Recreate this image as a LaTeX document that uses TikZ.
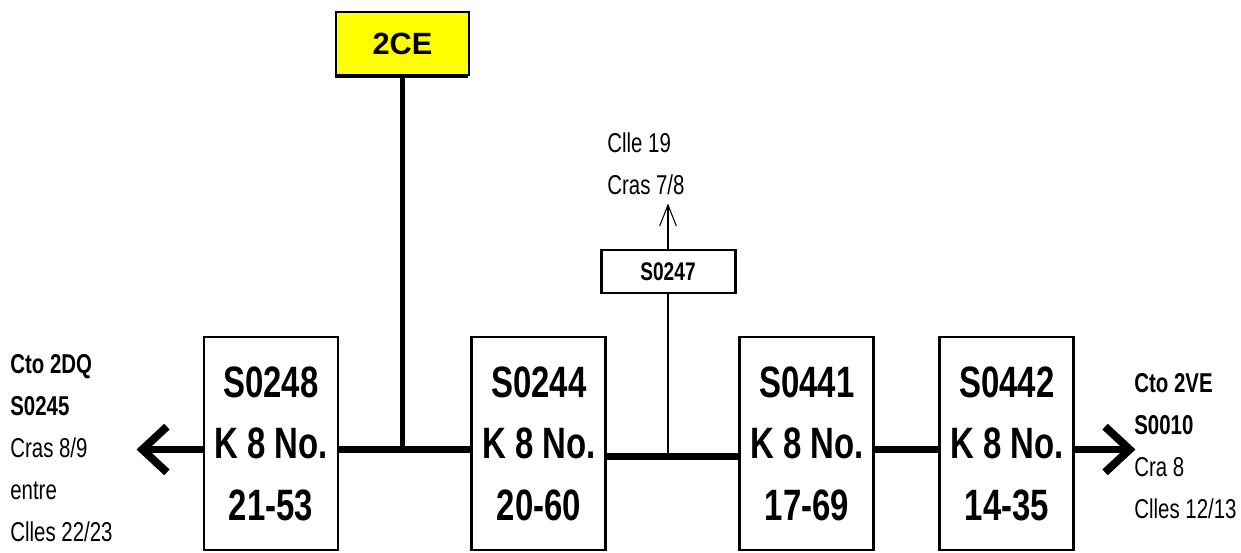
\documentclass[tikz,border=0pt]{standalone}
\usepackage{fontspec}
\setmainfont{Liberation Sans}[FakeStretch=0.75]
\newfontfamily\tagfont{Liberation Sans}
\usepackage{tikz}
\usetikzlibrary{arrows.meta, positioning, shadows}
\definecolor{tagyellow}{HTML}{FFFF00}

\begin{document}
\begin{tikzpicture}[
    node distance=2.62cm,
    mbox/.style={rectangle, draw=black, fill=white, line width=1.7pt,
        minimum width=2.68cm, minimum height=4.26cm, align=center,
        font=\fontsize{25}{35}\selectfont\bfseries, inner sep=0pt},
    tag/.style={rectangle, draw=black, fill=tagyellow, line width=1.7pt,
        minimum width=2.66cm, minimum height=1.26cm, inner sep=0pt,
        font=\tagfont\fontsize{17.5}{20}\selectfont\bfseries,
        drop shadow={shadow xshift=-0.03cm, shadow yshift=-0.07cm, fill=black, opacity=1}},
    sub/.style={rectangle, draw=black, fill=white, line width=1.7pt,
        minimum width=2.68cm, minimum height=0.86cm, inner sep=0pt,
        font=\fontsize{14.5}{17}\selectfont\bfseries},
    lab/.style={align=left, inner sep=0pt, font=\fontsize{15.5}{24}\selectfont},
    bus/.style={line width=4.5pt},
    arr/.style={-{Straight Barb[length=14pt, width=26pt]}, line width=4.5pt},
    thin/.style={-{Straight Barb[length=12pt, width=9.5pt, line width=0.6pt]}, line width=0.6pt}
]
    \useasboundingbox (0,0) rectangle (24.82,-11.06);

    % main row: left to right
    \node[mbox] (s0248) at (5.42,-8.87) {S0248\\K 8 No.\\21-53};
    \node[mbox, right=of s0248] (s0244) {S0244\\K 8 No.\\20-60};
    \node[mbox, right=of s0244] (s0441) {S0441\\K 8 No.\\17-69};
    \node[mbox, right=1.26cm of s0441] (s0442) {S0442\\K 8 No.\\14-35};

    % feeder and side branch
    \node[tag] (ce) at (8.05,-0.87) {2CE};
    \node[sub] (s0247) at (13.36,-5.43) {S0247};
    \coordinate[above=0.9cm of s0247.north] (up);
    \node[lab, anchor=west] (dest) at (12.14,-3.28) {Clle 19\\Cras 7/8};

    % end points
    \coordinate[left=1.32cm of s0248.west, yshift=-0.12cm] (lend);
    \coordinate[right=1.2cm of s0442.east, yshift=-0.12cm] (rend);
    \node[lab, anchor=west] (lto) at (0.2,-8.96)
        {\textbf{Cto 2DQ}\\\textbf{S0245}\\Cras 8/9\\entre\\Clles 22/23};
    \node[lab, anchor=west] (rto) at (22.68,-8.92)
        {\textbf{Cto 2VE}\\\textbf{S0010}\\Cra 8\\Clles 12/13};

    % bus
    \draw[bus] ([yshift=-0.12cm]s0248.east) -- ([yshift=-0.12cm]s0244.west);
    \draw[bus] ([yshift=-0.26cm]s0244.east) -- ([yshift=-0.26cm]s0441.west);
    \draw[bus] ([yshift=-0.12cm]s0441.east) -- ([yshift=-0.12cm]s0442.west);
    \draw[line width=3.4pt] (ce.south) -- ([yshift=-0.12cm]ce |- s0248.east);
    % outputs
    \draw[arr] ([yshift=-0.12cm]s0248.west) -- (lend);
    \draw[arr] ([yshift=-0.12cm]s0442.east) -- (rend);
    \draw[line width=0.6pt] ([yshift=-0.26cm]s0247 |- s0244.east) -- (s0247.south);
    \draw[thin] (s0247.north) -- (up);
\end{tikzpicture}
\end{document}
